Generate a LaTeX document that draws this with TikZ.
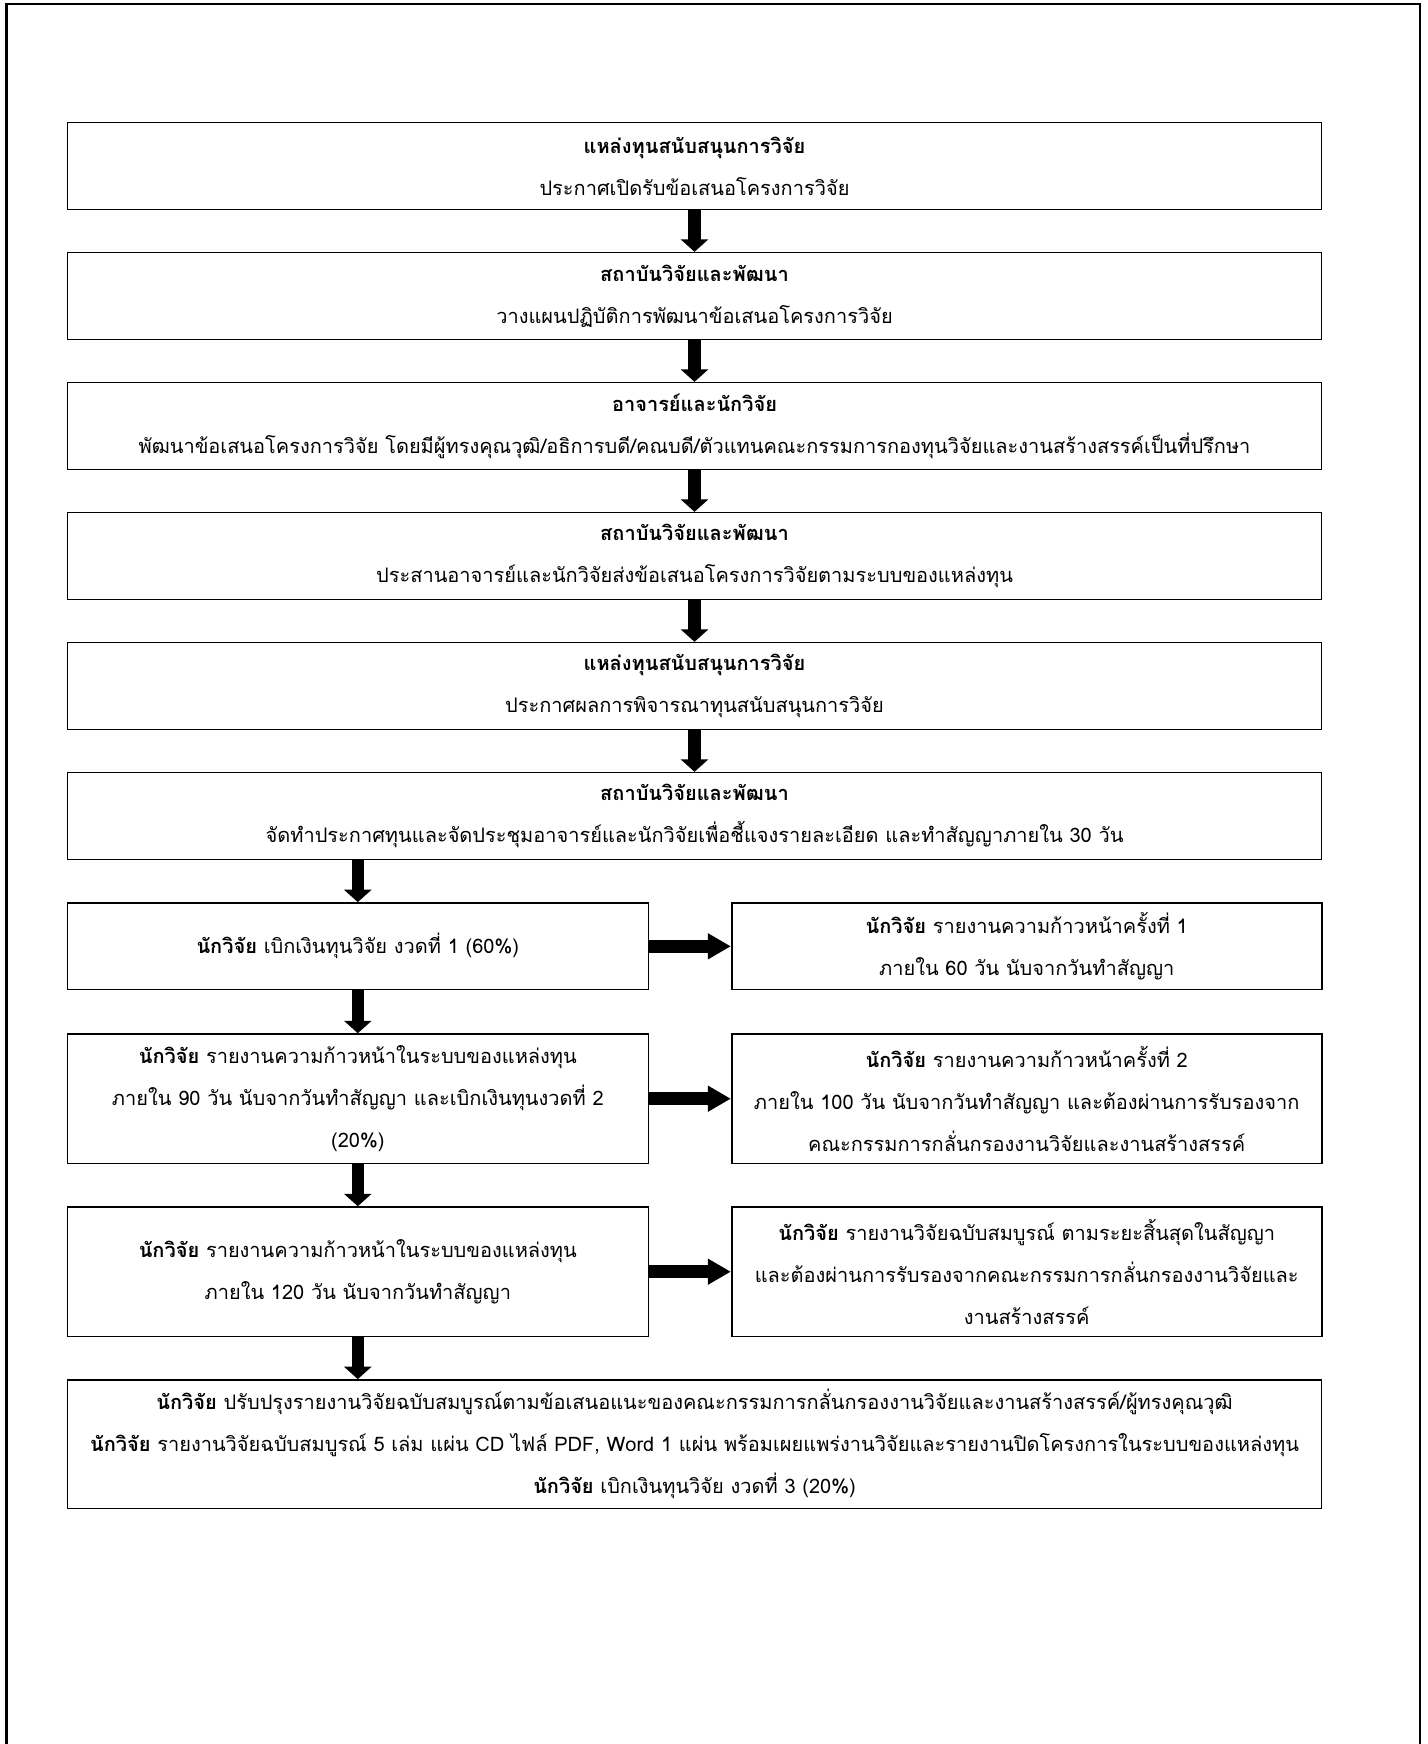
\documentclass[tikz,border=0pt]{standalone}
\usepackage{fontspec}
\newfontfamily\thaifont[Script=Thai]{Loma}
\usepackage{tikz}
\usetikzlibrary{positioning, calc, arrows.meta}

\begin{document}
\begin{tikzpicture}[x=0.5pt,y=-0.5pt,
    box/.style={draw,line width=0.8pt,inner sep=0pt,align=center,
      font=\thaifont\fontsize{10}{21}\selectfont},
    wide/.style={box,minimum width=627pt,minimum height=43.35pt},
    left/.style={box,minimum width=290.5pt},
    right/.style={box,minimum width=295pt},
    down/.style={line width=6.25pt,-{Triangle[length=6.25pt,width=13.5pt]}},
    across/.style={line width=6.5pt,-{Triangle[length=11.5pt,width=12.25pt]}}]
      \useasboundingbox (0,0) rectangle (1428,1744);
      \draw[line width=1.2pt] (6.5,1760)--(6.5,4)--(1419.7,4)--(1419.7,1760);
      \node[wide] (b1) at (694.5,166) {{\bfseries แหล่งทุนสนับสนุนการวิจัย}\\ประกาศเปิดรับข้อเสนอโครงการวิจัย};
      \node[wide] (b2) at (694.5,296) {{\bfseries สถาบันวิจัยและพัฒนา}\\วางแผนปฏิบัติการพัฒนาข้อเสนอโครงการวิจัย};
      \node[wide] (b3) at (694.5,426) {{\bfseries อาจารย์และนักวิจัย}\\พัฒนาข้อเสนอโครงการวิจัย โดยมีผู้ทรงคุณวุฒิ/อธิการบดี/คณบดี/ตัวแทนคณะกรรมการกองทุนวิจัยและงานสร้างสรรค์เป็นที่ปรึกษา};
      \node[wide] (b4) at (694.5,556) {{\bfseries สถาบันวิจัยและพัฒนา}\\ประสานอาจารย์และนักวิจัยส่งข้อเสนอโครงการวิจัยตามระบบของแหล่งทุน};
      \node[wide] (b5) at (694.5,686) {{\bfseries แหล่งทุนสนับสนุนการวิจัย}\\ประกาศผลการพิจารณาทุนสนับสนุนการวิจัย};
      \node[wide] (b6) at (694.5,816) {{\bfseries สถาบันวิจัยและพัฒนา}\\จัดทำประกาศทุนและจัดประชุมอาจารย์และนักวิจัยเพื่อชี้แจงรายละเอียด และทำสัญญาภายใน 30 วัน};
      \node[left,minimum height=43.35pt] (l7) at (357.8,946.3) {{\bfseries นักวิจัย} เบิกเงินทุนวิจัย งวดที่ 1 (60\%)};
      \node[right,minimum height=43.35pt] (r7) at (1026.7,946.3) {{\bfseries นักวิจัย} รายงานความก้าวหน้าครั้งที่ 1\\ภายใน 60 วัน นับจากวันทำสัญญา};
      \node[left,minimum height=64.65pt] (l8) at (357.8,1098.7) {{\bfseries นักวิจัย} รายงานความก้าวหน้าในระบบของแหล่งทุน\\ภายใน 90 วัน นับจากวันทำสัญญา และเบิกเงินทุนงวดที่ 2\\(20\%)};
      \node[right,minimum height=64.65pt] (r8) at (1026.7,1098.7) {{\bfseries นักวิจัย} รายงานความก้าวหน้าครั้งที่ 2\\ภายใน 100 วัน นับจากวันทำสัญญา และต้องผ่านการรับรองจาก\\คณะกรรมการกลั่นกรองงานวิจัยและงานสร้างสรรค์};
      \node[left,minimum height=64.65pt] (l9) at (357.8,1271.7) {{\bfseries นักวิจัย} รายงานความก้าวหน้าในระบบของแหล่งทุน\\ภายใน 120 วัน นับจากวันทำสัญญา};
      \node[right,minimum height=64.65pt] (r9) at (1026.7,1271.7) {{\bfseries นักวิจัย} รายงานวิจัยฉบับสมบูรณ์ ตามระยะสิ้นสุดในสัญญา\\และต้องผ่านการรับรองจากคณะกรรมการกลั่นกรองงานวิจัยและ\\งานสร้างสรรค์};
      \node[wide,minimum height=64.25pt] (fin) at (694.5,1444.2) {{\bfseries นักวิจัย} ปรับปรุงรายงานวิจัยฉบับสมบูรณ์ตามข้อเสนอแนะของคณะกรรมการกลั่นกรองงานวิจัยและงานสร้างสรรค์/ผู้ทรงคุณวุฒิ\\{\bfseries นักวิจัย} รายงานวิจัยฉบับสมบูรณ์ 5 เล่ม แผ่น CD ไฟล์ PDF, Word 1 แผ่น พร้อมเผยแพร่งานวิจัยและรายงานปิดโครงการในระบบของแหล่งทุน\\{\bfseries นักวิจัย} เบิกเงินทุนวิจัย งวดที่ 3 (20\%)};
      \draw[down] (b1.south)--(b2.north);
      \draw[down] (b2.south)--(b3.north);
      \draw[down] (b3.south)--(b4.north);
      \draw[down] (b4.south)--(b5.north);
      \draw[down] (b5.south)--(b6.north);
      \draw[down] (b6.south -| l7)--(l7.north);
      \draw[down] (l7.south)--(l8.north);
      \draw[down] (l8.south)--(l9.north);
      \draw[down] (l9.south)--(fin.north -| l9);
      \draw[across] (l7.east)--(r7.west);
      \draw[across] (l8.east)--(r8.west);
      \draw[across] (l9.east)--(r9.west);
    \end{tikzpicture}
\end{document}
